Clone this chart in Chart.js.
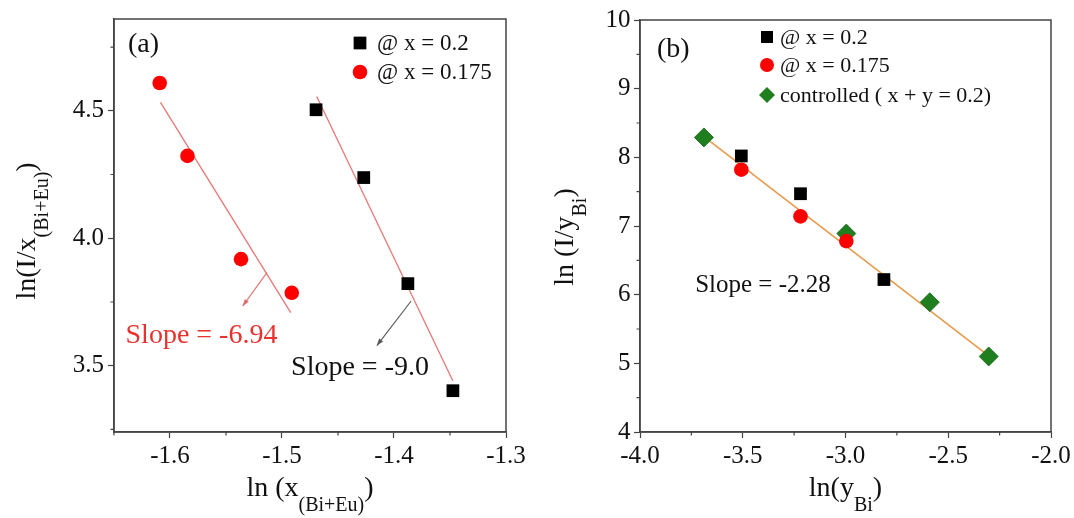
<!DOCTYPE html>
<html>
<head>
<meta charset="utf-8">
<script src="https://cdn.jsdelivr.net/npm/chart.js@4.4.1/dist/chart.umd.min.js"></script>
<style>
  html, body { margin: 0; padding: 0; background: #fff; }
  #wrap { position: relative; width: 1074px; height: 518px; }
  .panel { position: absolute; top: 0; width: 537px; height: 518px; }
</style>
</head>
<body>
<div id="wrap">
  <div class="panel" style="left:0"><canvas id="chartA"></canvas></div>
  <div class="panel" style="left:537px"><canvas id="chartB"></canvas></div>
</div>
<script>
// ---- dados (a) ----
const aX02 = [-1.4696, -1.427, -1.3876, -1.3474];
const aY02 = [4.504, 4.238, 3.822, 3.402];
const aX0175 = [-1.6092, -1.5844, -1.5366, -1.4913];
const aY0175 = [4.609, 4.323, 3.918, 3.786];
const aFit02X = [-1.469, -1.3475];
const aFit02Y = [4.556, 3.441];
const aFit0175X = [-1.6085, -1.4922];
const aFit0175Y = [4.533, 3.708];
const legendA = ['@ x = 0.2', '@ x = 0.175'];

// ---- dados (b) ----
const bX02 = [-3.507, -3.219, -2.813];
const bY02 = [8.02, 7.47, 6.22];
const bX0175 = [-3.507, -3.219, -2.996];
const bY0175 = [7.82, 7.14, 6.78];
const bXctrl = [-3.689, -2.996, -2.590, -2.303];
const bYctrl = [8.29, 6.89, 5.89, 5.10];
const bFitX = [-3.689, -2.303];
const bFitY = [8.30, 5.11];
const legendB = ['@ x = 0.2', '@ x = 0.175', 'controlled ( x + y = 0.2)'];

// ---- anotações (em unidades dos eixos) ----
const notesA = [
  { text: 'Slope = -6.94', x: -1.6397, y: 3.618 },
  { text: 'Slope = -9.0', x: -1.4919, y: 3.494 }
];
const arrowsA = [
  { x1: -1.5135, y1: 3.865, x2: -1.5351, y2: 3.734 },
  { x1: -1.3847, y1: 3.754, x2: -1.4153, y2: 3.579 }
];
const notesB = [{ text: 'Slope = -2.28', x: -3.7315, y: 6.137 }];

const SERIF = "'Liberation Serif', 'Times New Roman', serif";
Chart.defaults.font.family = SERIF;
Chart.defaults.color = '#111';

const pts = (xs, ys) => xs.map((x, i) => ({ x, y: ys[i] }));

function minorValues(scale) {
  const t = scale.ticks.map(k => k.value);
  const step = t[1] - t[0];
  const out = [];
  for (let v = t[0] - step / 2; v <= scale.max + 1e-9; v += step) {
    if (v >= scale.min - 1e-9) out.push(v);
  }
  return out;
}

function drawParts(ctx, parts, cx, baseY, mainSize, subSize, subDrop) {
  let total = 0;
  parts.forEach(p => {
    ctx.font = (p.sub ? subSize : mainSize) + 'px ' + SERIF;
    p.w = ctx.measureText(p.t).width;
    total += p.w;
  });
  let xx = cx - total / 2;
  parts.forEach(p => {
    ctx.font = (p.sub ? subSize : mainSize) + 'px ' + SERIF;
    ctx.fillText(p.t, xx, baseY + (p.sub ? subDrop : 0));
    xx += p.w;
  });
}

function arrow(ctx, x1, y1, x2, y2, color) {
  ctx.strokeStyle = color; ctx.fillStyle = color; ctx.lineWidth = 1.1;
  ctx.beginPath(); ctx.moveTo(x1, y1); ctx.lineTo(x2, y2); ctx.stroke();
  const ang = Math.atan2(y2 - y1, x2 - x1);
  ctx.beginPath();
  ctx.moveTo(x2, y2);
  ctx.lineTo(x2 - 7 * Math.cos(ang) + 2.5 * Math.sin(ang), y2 - 7 * Math.sin(ang) - 2.5 * Math.cos(ang));
  ctx.lineTo(x2 - 7 * Math.cos(ang) - 2.5 * Math.sin(ang), y2 - 7 * Math.sin(ang) + 2.5 * Math.cos(ang));
  ctx.closePath(); ctx.fill();
}

// plugin: moldura, ticks menores, legenda, títulos e anotações
const decor = {
  id: 'decor',
  afterDraw(chart, args, o) {
    const { ctx, chartArea: a, scales: { x, y } } = chart;
    ctx.save();
    ctx.strokeStyle = '#444'; ctx.lineWidth = 1.5;
    ctx.strokeRect(a.left, a.top, a.right - a.left, a.bottom - a.top);

    ctx.lineWidth = 1.2;
    ctx.beginPath();
    minorValues(x).forEach(v => { const px = x.getPixelForValue(v); ctx.moveTo(px, a.bottom); ctx.lineTo(px, a.bottom + 3.5); });
    minorValues(y).forEach(v => { const py = y.getPixelForValue(v); ctx.moveTo(a.left, py); ctx.lineTo(a.left - 3.5, py); });
    ctx.stroke();

    // letra do painel
    ctx.fillStyle = '#111'; ctx.textAlign = 'left'; ctx.textBaseline = 'alphabetic';
    ctx.font = '28px ' + SERIF;
    ctx.fillText(o.letter, a.left + o.letterPos[0], a.top + o.letterPos[1]);

    // legenda
    o.legend.forEach((item, i) => {
      const ds = chart.data.datasets[i];
      const ly = a.top + o.legendY[i];
      ctx.fillStyle = ds.backgroundColor; ctx.strokeStyle = ds.backgroundColor;
      Chart.helpers.drawPoint(ctx, { pointStyle: ds.pointStyle, radius: o.legendR[i], rotation: 0, borderWidth: 0 }, a.left + o.legendX, ly);
      ctx.fillStyle = '#111'; ctx.textBaseline = 'middle';
      ctx.font = o.legendSize + 'px ' + SERIF;
      ctx.fillText(item, a.left + o.legendX + o.legendGap, ly + 1);
    });

    // setas
    (o.arrows || []).forEach((r, i) => {
      arrow(ctx, x.getPixelForValue(r.x1), y.getPixelForValue(r.y1), x.getPixelForValue(r.x2), y.getPixelForValue(r.y2), o.arrowColors[i]);
    });

    // textos de inclinação
    o.notes.forEach((n, i) => {
      ctx.fillStyle = o.noteColors[i]; ctx.textBaseline = 'middle'; ctx.textAlign = 'left';
      ctx.font = o.noteSize + 'px ' + SERIF;
      ctx.fillText(n.text, x.getPixelForValue(n.x), y.getPixelForValue(n.y));
    });

    // títulos dos eixos com subscrito
    ctx.fillStyle = '#111'; ctx.textBaseline = 'alphabetic'; ctx.textAlign = 'left';
    drawParts(ctx, o.xTitle, (a.left + a.right) / 2, o.xTitleY, 28, 20, 15);
    ctx.translate(o.yTitleX, o.yTitleCY);
    ctx.rotate(-Math.PI / 2);
    drawParts(ctx, o.yTitle, 0, 0, 28, 20, 13);
    ctx.restore();
  }
};

function axes(xMin, xMax, xStep, xDec, yMin, yMax, yStep, yDec, yWidth, yPad) {
  return {
    x: {
      type: 'linear', min: xMin, max: xMax,
      ticks: { stepSize: xStep, includeBounds: false, autoSkip: false, maxRotation: 0, padding: 3,
               font: { size: 25 }, color: '#111', callback: v => v.toFixed(xDec) },
      grid: { drawOnChartArea: false, tickLength: 6, tickColor: '#444', tickWidth: 1.2 },
      border: { color: '#444', width: 1.5 },
      afterFit: s => { s.height = 86; }
    },
    y: {
      type: 'linear', min: yMin, max: yMax,
      ticks: { stepSize: yStep, includeBounds: false, autoSkip: false, padding: yPad,
               font: { size: 25 }, color: '#111', callback: v => v.toFixed(yDec) },
      grid: { drawOnChartArea: false, tickLength: 6, tickColor: '#444', tickWidth: 1.2 },
      border: { color: '#444', width: 1.5 },
      afterFit: s => { s.width = yWidth; }
    }
  };
}

const fitRed = 'rgba(226, 95, 95, 0.85)';

new Chart(document.getElementById('chartA'), {
  type: 'scatter',
  data: {
    datasets: [
      { label: legendA[0], data: pts(aX02, aY02), pointStyle: 'rect', pointRadius: 9,
        backgroundColor: '#000', borderColor: '#000', pointBorderWidth: 0 },
      { label: legendA[1], data: pts(aX0175, aY0175), pointStyle: 'circle', pointRadius: 7.3,
        backgroundColor: '#ff0000', borderColor: '#ff0000', pointBorderWidth: 0 },
      { data: pts(aFit02X, aFit02Y), showLine: true, pointRadius: 0, borderColor: fitRed, borderWidth: 1.3 },
      { data: pts(aFit0175X, aFit0175Y), showLine: true, pointRadius: 0, borderColor: fitRed, borderWidth: 1.3 }
    ]
  },
  options: {
    responsive: true, maintainAspectRatio: false, animation: false, events: [],
    layout: { padding: { top: 19, right: 31, left: 0, bottom: 0 } },
    scales: axes(-1.65, -1.3, 0.1, 1, 3.24, 4.86, 0.5, 1, 114, 4),
    plugins: {
      legend: { display: false }, tooltip: { enabled: false },
      decor: {
        letter: '(a)', letterPos: [14, 33],
        legend: legendA, legendX: 246, legendY: [24, 53], legendR: [9, 7.3], legendSize: 23, legendGap: 17,
        arrows: arrowsA, arrowColors: ['rgba(222, 100, 100, 0.9)', '#555'],
        notes: notesA, noteColors: ['#e8322e', '#111'], noteSize: 28,
        xTitle: [{ t: 'ln (x' }, { t: '(Bi+Eu)', sub: true }, { t: ')' }], xTitleY: 496,
        yTitle: [{ t: 'ln(I/x' }, { t: '(Bi+Eu)', sub: true }, { t: ')' }], yTitleX: 35, yTitleCY: 231
      }
    }
  },
  plugins: [decor]
});

new Chart(document.getElementById('chartB'), {
  type: 'scatter',
  data: {
    datasets: [
      { label: legendB[0], data: pts(bX02, bY02), pointStyle: 'rect', pointRadius: 9,
        backgroundColor: '#000', borderColor: '#000', pointBorderWidth: 0 },
      { label: legendB[1], data: pts(bX0175, bY0175), pointStyle: 'circle', pointRadius: 7.3,
        backgroundColor: '#ff0000', borderColor: '#ff0000', pointBorderWidth: 0 },
      { label: legendB[2], data: pts(bXctrl, bYctrl), pointStyle: 'rectRot', pointRadius: 9.5,
        backgroundColor: '#1f7f1f', borderColor: '#176317', pointBorderWidth: 0.8 },
      { data: pts(bFitX, bFitY), showLine: true, pointRadius: 0, borderColor: '#e89a4c', borderWidth: 1.6 }
    ]
  },
  options: {
    responsive: true, maintainAspectRatio: false, animation: false, events: [],
    layout: { padding: { top: 20, right: 23, left: 0, bottom: 0 } },
    scales: axes(-4.0, -2.0, 0.5, 1, 4, 10, 1, 0, 103, 3.5),
    plugins: {
      legend: { display: false }, tooltip: { enabled: false },
      decor: {
        letter: '(b)', letterPos: [17, 37],
        legend: legendB, legendX: 127, legendY: [17, 45, 75], legendR: [8.5, 7, 8], legendSize: 22, legendGap: 13,
        arrows: [], arrowColors: [],
        notes: notesB, noteColors: ['#111'], noteSize: 25,
        xTitle: [{ t: 'ln(y' }, { t: 'Bi', sub: true }, { t: ')' }], xTitleY: 496,
        yTitle: [{ t: 'ln (I/y' }, { t: 'Bi', sub: true }, { t: ')' }], yTitleX: 36, yTitleCY: 237
      }
    }
  },
  plugins: [decor]
});
</script>
</body>
</html>
